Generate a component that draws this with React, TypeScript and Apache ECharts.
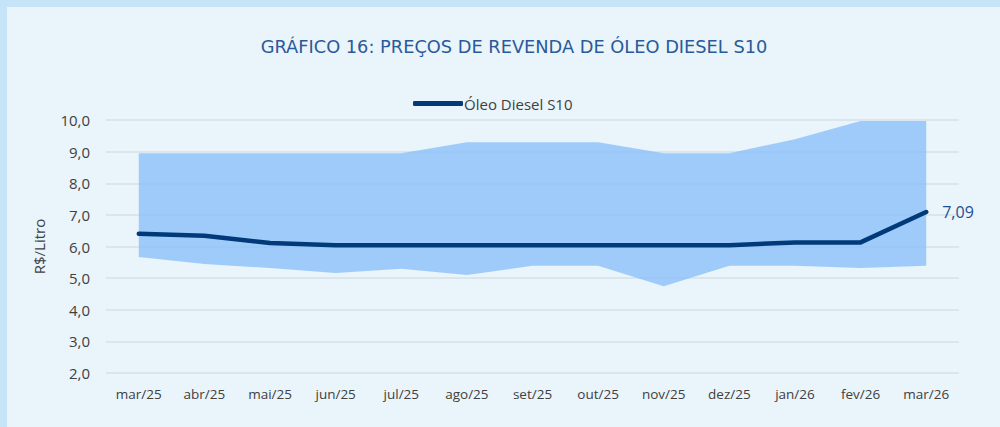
import React, { useEffect, useRef } from "react";
import * as echarts from "echarts";

const categories = [
  "mar/25", "abr/25", "mai/25", "jun/25", "jul/25", "ago/25", "set/25",
  "out/25", "nov/25", "dez/25", "jan/26", "fev/26", "mar/26",
];
const dieselS10 = [6.4, 6.34, 6.11, 6.04, 6.04, 6.04, 6.04, 6.04, 6.04, 6.04, 6.13, 6.13, 7.09];
const rangeMin = [5.67, 5.45, 5.32, 5.16, 5.3, 5.1, 5.39, 5.39, 4.74, 5.39, 5.39, 5.32, 5.39];
const rangeMax = [8.95, 8.95, 8.95, 8.95, 8.95, 9.3, 9.3, 9.3, 8.95, 8.95, 9.39, 9.97, 9.97];
const yTicks = { min: 2, max: 10, interval: 1 };

const TITLE = "GRÁFICO 16: PREÇOS DE REVENDA DE ÓLEO DIESEL S10";
const SERIES_NAME = "Óleo Diesel S10";
const FONT = "'Open Sans', 'Noto Sans', sans-serif";

export default function App() {
  const ref = useRef<HTMLDivElement>(null);

  useEffect(() => {
    if (!ref.current) return;
    const chart = echarts.init(ref.current, undefined, { renderer: "svg" });
    const spread = rangeMax.map((v, i) => +(v - rangeMin[i]).toFixed(2));
    chart.setOption({
      animation: false,
      backgroundColor: "transparent",
      textStyle: { fontFamily: FONT },
      graphic: [
        {
          type: "text",
          x: 514,
          y: 46,
          style: {
            text: TITLE,
            fontFamily: "'DejaVu Sans', sans-serif",
            fontSize: 17.8,
            fill: "#2a5a99",
            textAlign: "center",
            textVerticalAlign: "middle",
          },
        },
      ],
      legend: {
        data: [SERIES_NAME],
        left: 408,
        top: 91,
        icon: "roundRect",
        itemWidth: 50,
        itemHeight: 5,
        itemGap: 4,
        textStyle: { fontFamily: FONT, fontSize: 15, color: "#404040", padding: [0, 0, 0, -4] },
      },
      grid: { left: 106, right: 41, top: 120, bottom: 54 },
      xAxis: {
        type: "category",
        data: categories,
        boundaryGap: true,
        axisLine: { show: false },
        axisTick: { show: false },
        axisLabel: { color: "#404040", fontSize: 13.5, fontFamily: FONT, margin: 14 },
      },
      yAxis: {
        type: "value",
        min: yTicks.min,
        max: yTicks.max,
        interval: yTicks.interval,
        name: "R$/Litro",
        nameLocation: "middle",
        nameGap: 60,
        nameTextStyle: { color: "#404040", fontSize: 15, fontFamily: FONT },
        axisLine: { show: false },
        axisTick: { show: false },
        axisLabel: {
          color: "#404040",
          fontSize: 15,
          fontFamily: FONT,
          margin: 16,
          formatter: (v: number) => v.toFixed(1).replace(".", ","),
        },
        splitLine: { lineStyle: { color: "#d4e1ea", width: 1.5 } },
      },
      series: [
        {
          name: "min",
          type: "line",
          stack: "band",
          data: rangeMin,
          symbol: "none",
          lineStyle: { width: 0, opacity: 0 },
          areaStyle: { opacity: 0 },
          silent: true,
        },
        {
          name: "range",
          type: "line",
          stack: "band",
          data: spread,
          symbol: "none",
          lineStyle: { width: 0, opacity: 0 },
          areaStyle: { color: "rgba(134,189,250,0.75)", opacity: 1 },
          silent: true,
        },
        {
          name: SERIES_NAME,
          type: "line",
          data: dieselS10,
          smooth: false,
          symbol: "none",
          lineStyle: { color: "#013a79", width: 4.5, cap: "round", join: "round" },
          itemStyle: { color: "#013a79" },
          endLabel: {
            show: true,
            distance: 16,
            color: "#1f4f8f",
            fontSize: 16,
            fontFamily: FONT,
            formatter: (p: any) => Number(p.value).toFixed(2).replace(".", ","),
          },
          z: 5,
        },
      ],
    });
    return () => chart.dispose();
  }, []);

  return (
    <div style={{ position: "fixed", left: 0, top: 0, width: 1000, height: 427, background: "#c6e4f7" }}>
      <div style={{ position: "absolute", left: 7, top: 7, width: 993, height: 420, background: "#e9f4fb" }} />
      <div ref={ref} style={{ position: "absolute", left: 0, top: 0, width: 1000, height: 427 }} />
    </div>
  );
}
